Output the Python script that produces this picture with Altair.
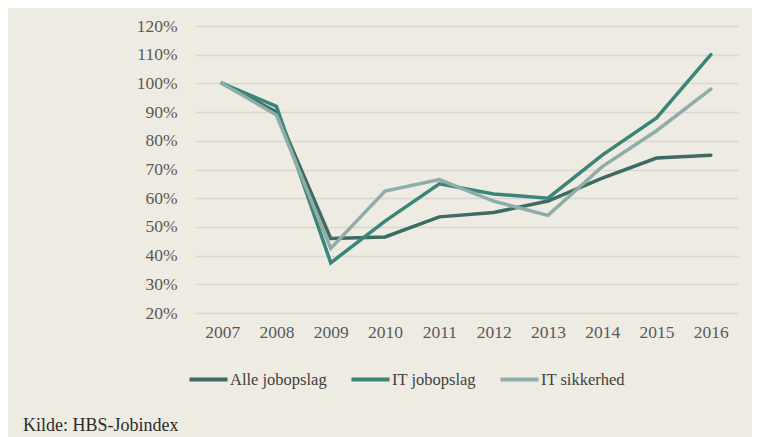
import altair as alt
import pandas as pd

years = ["2007", "2008", "2009", "2010", "2011", "2012", "2013", "2014", "2015", "2016"]
alle = [1.00, 0.90, 0.46, 0.465, 0.535, 0.55, 0.59, 0.67, 0.74, 0.75]
it_job = [1.00, 0.92, 0.375, 0.52, 0.65, 0.615, 0.60, 0.75, 0.88, 1.10]
it_sik = [1.00, 0.89, 0.425, 0.625, 0.665, 0.59, 0.54, 0.71, 0.835, 0.98]
series = ["Alle jobopslag", "IT jobopslag", "IT sikkerhed"]
colors = ["#3d6b62", "#3a8577", "#8fada8"]
y_ticks = [0.2, 0.3, 0.4, 0.5, 0.6, 0.7, 0.8, 0.9, 1.0, 1.1, 1.2]

rows = []
for name, vals in zip(series, [alle, it_job, it_sik]):
    for y, v in zip(years, vals):
        rows.append({"Year": y, "Serie": name, "Value": v})
df = pd.DataFrame(rows)

FONT = "Liberation Serif"
BG = "#eeebe3"

lines = alt.Chart(df).mark_line(strokeWidth=3.5, strokeCap="round", strokeJoin="miter").encode(
    x=alt.X("Year:N", sort=years, title=None,
            scale=alt.Scale(type="point", padding=0.5),
            axis=alt.Axis(labelAngle=0, ticks=False, domain=False, grid=False,
                          labelPadding=10, labelFontSize=17.5, labelColor="#595959",
                          labelFont=FONT)),
    y=alt.Y("Value:Q", title=None,
            scale=alt.Scale(domain=[0.2, 1.2], nice=False, zero=False),
            axis=alt.Axis(values=y_ticks, format=".0%", ticks=False, domain=False,
                          grid=True, gridColor="#d9d6cf", gridWidth=1.5,
                          labelPadding=18, labelFontSize=17.5, labelColor="#595959",
                          labelFont=FONT)),
    color=alt.Color("Serie:N", sort=series,
                    scale=alt.Scale(domain=series, range=colors),
                    legend=alt.Legend(title=None, orient="none", direction="horizontal",
                                      legendX=-8, legendY=332,
                                      symbolType="stroke", symbolSize=1450,
                                      symbolStrokeWidth=4, labelFont=FONT,
                                      labelFontSize=16.5, labelColor="#404040",
                                      labelOffset=0, columnPadding=16)),
    order=alt.Order("Year:N"),
)

source = alt.Chart(pd.DataFrame({"t": ["Kilde: HBS-Jobindex"]})).mark_text(
    align="left", baseline="alphabetic", font=FONT, fontSize=18, color="#2b2b2b"
).encode(x=alt.value(-172), y=alt.value(405), text="t:N")

chart = alt.layer(lines, source).properties(
    width=543, height=287,
    autosize=alt.AutoSizeParams(type="none"),
    padding={"left": 187, "top": 18, "right": 14, "bottom": 124},
    background=BG,
).configure_view(stroke=None, fill=BG)

chart.save("out.html", embed_options={"renderer": "svg", "actions": False})
